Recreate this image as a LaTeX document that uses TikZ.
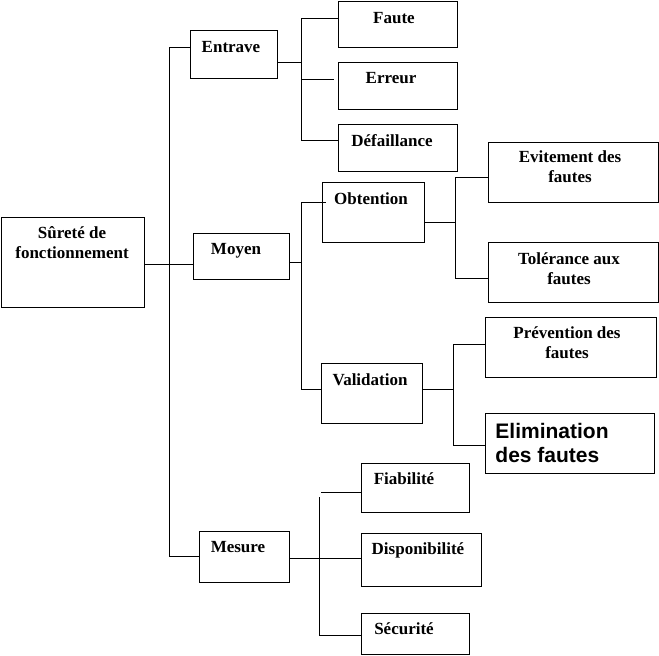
\documentclass[tikz,border=0pt]{standalone}
\usepackage{fontspec}
\setmainfont{Liberation Serif}
\setsansfont{Liberation Sans}
\usetikzlibrary{positioning,calc}

\begin{document}
\begin{tikzpicture}[x=1pt,y=-1pt,line width=0.9pt,%
    every node/.style={font=\bfseries\fontsize{17}{20}\selectfont}]
    \tikzstyle{state}=[rectangle,draw=black,fill=white,inner sep=0pt]
    \tikzstyle{boxText}=[anchor=base,align=center,inner sep=0pt]
    \tikzstyle{bigText}=[anchor=base west,align=left,inner sep=0pt,%
      font=\sffamily\bfseries\fontsize{21}{24}\selectfont]
    \useasboundingbox (0,0) rectangle (659,656);
    % All states
    \node (surete) [state,minimum width=143pt,minimum height=90pt] at (72.5,262) {};
    \node (entrave) [state,minimum width=87pt,minimum height=48pt] at (233.5,54) {};
    \node (moyen) [state,minimum width=96pt,minimum height=46pt] at (241,256) {};
    \node (mesure) [state,minimum width=90pt,minimum height=51pt] at (244,556.5) {};
    \node (faute) [state,minimum width=119pt,minimum height=46pt] at (397.5,24) {};
    \node (erreur) [state,minimum width=119pt,minimum height=47pt] at (397.5,85.5) {};
    \node (defaillance) [state,minimum width=119pt,minimum height=47pt] at (397.5,147.5) {};
    \node (obtention) [state,minimum width=102pt,minimum height=60pt] at (373,212) {};
    \node (validation) [state,minimum width=101pt,minimum height=60pt] at (371.5,393) {};
    \node (evitement) [state,minimum width=170pt,minimum height=60pt] at (573,172) {};
    \node (tolerance) [state,minimum width=170pt,minimum height=60pt] at (573,272) {};
    \node (prevention) [state,minimum width=171pt,minimum height=60pt] at (570.5,347) {};
    \node (elimination) [state,minimum width=169pt,minimum height=60pt] at (569.5,443) {};
    \node (fiabilite) [state,minimum width=108pt,minimum height=49pt] at (415,487.5) {};
    \node (disponibilite) [state,minimum width=120pt,minimum height=53pt] at (421,559.5) {};
    \node (securite) [state,minimum width=108pt,minimum height=41pt] at (415,633.5) {};
    % All texts (multi-line ones sit on their last line)
    \node (sureteText) [boxText] at (72,258) {S\^uret\'e de\\fonctionnement};
    \node (entraveText) [boxText] at (231,52) {Entrave};
    \node (moyenText) [boxText] at (236,254) {Moyen};
    \node (mesureText) [boxText] at (238,552) {Mesure};
    \node (fauteText) [boxText] at (394,23) {Faute};
    \node (erreurText) [boxText] at (391,83) {Erreur};
    \node (defaillanceText) [boxText] at (392,146) {D\'efaillance};
    \node (obtentionText) [boxText] at (371,204) {Obtention};
    \node (validationText) [boxText] at (370,385) {Validation};
    \node (evitementText) [boxText] at (570,182) {Evitement des\\fautes};
    \node (toleranceText) [boxText] at (569,284) {Tol\'erance aux\\fautes};
    \node (preventionText) [boxText] at (567,358) {Pr\'evention des\\fautes};
    \node (eliminationText) [bigText] at (495,462) {Elimination\\des fautes};
    \node (fiabiliteText) [boxText] at (404,484) {Fiabilit\'e};
    \node (disponibiliteText) [boxText] at (418,554) {Disponibilit\'e};
    \node (securiteText) [boxText] at (404,634) {S\'ecurit\'e};
    % Edges
    \draw ([yshift=7]entrave.west) -| ([xshift=-29]mesure.west) -- (mesure.west);
    \draw ([yshift=-2]surete.east) -- ([yshift=-8]moyen.west);
    \draw ([yshift=-8]entrave.east) -- ([xshift=25,yshift=-8]entrave.east);
    \draw ([yshift=6]faute.west) -| ([xshift=-36,yshift=7.5]defaillance.west) -- ([yshift=7.5]defaillance.west);
    \draw ([xshift=-36,yshift=6.5]erreur.west) -- ([xshift=-4,yshift=6.5]erreur.west);
    \draw ([xshift=4,yshift=10]obtention.west) -| ([xshift=-19,yshift=4]validation.west) -- ([yshift=4]validation.west);
    \draw ([yshift=-6]moyen.east) -- ([xshift=13,yshift=-6]moyen.east);
    \draw ([yshift=-5]evitement.west) -| ([xshift=-32,yshift=-6]tolerance.west) -- ([yshift=-6]tolerance.west);
    \draw ([yshift=-10]obtention.east) -- ([xshift=32,yshift=-10]obtention.east);
    \draw ([yshift=3]prevention.west) -| ([xshift=-31,yshift=-2]elimination.west) -- ([yshift=-2]elimination.west);
    \draw ([yshift=4]validation.east) -- ([xshift=32,yshift=4]validation.east);
    \draw ([yshift=-4.5]fiabilite.west) -- ([xshift=-40,yshift=-4.5]fiabilite.west);
    \draw ([yshift=-1.5]securite.west) -| ([xshift=-41,yshift=-9.5]fiabilite.west);
    \draw ([yshift=-1.5]mesure.east) -- ([yshift=1.5]disponibilite.west);
  \end{tikzpicture}
\end{document}
